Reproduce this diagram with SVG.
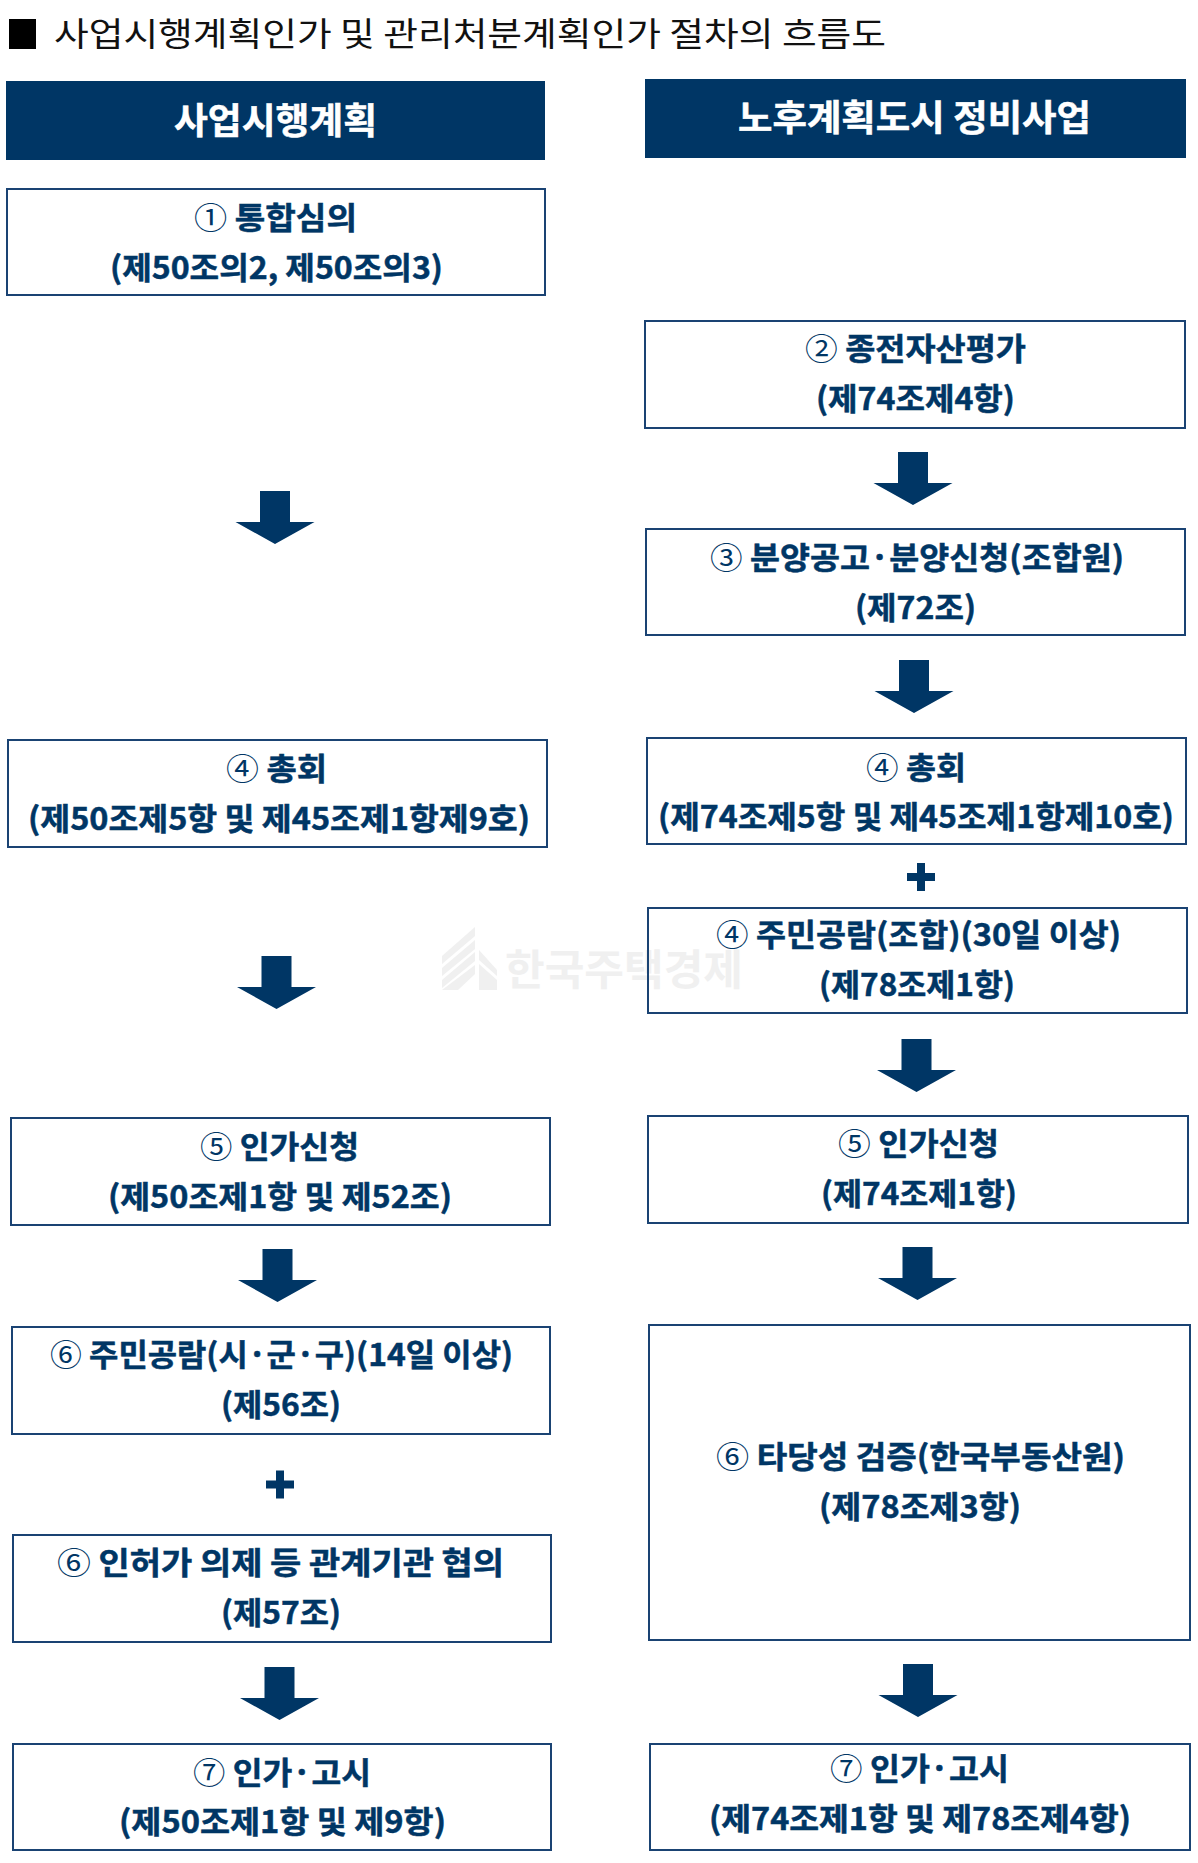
<svg xmlns="http://www.w3.org/2000/svg" xmlns:xlink="http://www.w3.org/1999/xlink" width="1198" height="1863" viewBox="0 0 1198 1863">
<style>
text{font-family:"Noto Sans CJK KR","Noto Sans",sans-serif}
.b{fill:none;stroke:#1a4373;stroke-width:2}
.h{fill:#003665}
.t{font-size:31px;font-weight:700;fill:#003665;stroke:#003665;stroke-width:.5}
.n{font-weight:400;stroke-width:0}
.w{font-size:36px;font-weight:700;fill:#fff;stroke:#fff;stroke-width:.5}
.a{fill:#003665}
.wm{fill:#f0f0f0}
</style>
<defs>
<path id="arrow" d="M-15 0H15V31H39.5L0 53L-39.5 31H-15Z"/>
<path id="plus" d="M-4 -14H4V-4H14V4H4V14H-4V4H-14V-4H-4Z"/>
</defs>
<rect width="1198" height="1863" fill="#fff"/>
<g id="watermark">
<path class="wm" d="M442 956L475 927V936L442 964ZM442 968L475 940V949L442 976ZM442 980L475 952V961L442 988ZM442 990V990L475 965V974L458 990ZM479 950L497 970V976L479 960ZM479 964L497 980V990H479Z"/>
<text class="wm" x="505" y="985" font-size="42" font-weight="700" textLength="238" lengthAdjust="spacingAndGlyphs">한국주택경제</text>
</g>
<g id="title">
<rect x="9" y="19" width="27" height="30" fill="#000"/>
<text x="54" y="46" font-size="33" fill="#111" textLength="832" lengthAdjust="spacingAndGlyphs">사업시행계획인가 및 관리처분계획인가 절차의 흐름도</text>
</g>
<g id="header-left"><rect class="h" x="6" y="81" width="539" height="79"/><text class="w" x="174" y="134" textLength="203" lengthAdjust="spacingAndGlyphs">사업시행계획</text></g>
<g id="header-right"><rect class="h" x="645" y="79" width="541" height="79"/><text class="w" x="738" y="131" textLength="353" lengthAdjust="spacingAndGlyphs">노후계획도시 정비사업</text></g>
<g id="connectors">
<use class="a" xlink:href="#arrow" href="#arrow" x="275" y="491"/>
<use class="a" xlink:href="#arrow" href="#arrow" x="276.500" y="956"/>
<use class="a" xlink:href="#arrow" href="#arrow" x="277.500" y="1249"/>
<use class="a" xlink:href="#arrow" href="#arrow" x="279.500" y="1667"/>
<use class="a" xlink:href="#arrow" href="#arrow" x="913" y="452"/>
<use class="a" xlink:href="#arrow" href="#arrow" x="914" y="660"/>
<use class="a" xlink:href="#arrow" href="#arrow" x="916.500" y="1039"/>
<use class="a" xlink:href="#arrow" href="#arrow" x="917.500" y="1247"/>
<use class="a" xlink:href="#arrow" href="#arrow" x="918" y="1664"/>
<use class="a" xlink:href="#plus" href="#plus" x="921" y="877"/>
<use class="a" xlink:href="#plus" href="#plus" x="280" y="1484.500"/>
</g>
<g id="l1"><rect class="b" x="7" y="189" width="538" height="106"/><text class="t" x="194" y="229" textLength="163" lengthAdjust="spacingAndGlyphs"><tspan class="n">①</tspan> 통합심의</text><text class="t" x="110" y="279" textLength="333" lengthAdjust="spacingAndGlyphs">(제50조의2, 제50조의3)</text></g>
<g id="l4"><rect class="b" x="8" y="740" width="539" height="107"/><text class="t" x="226" y="780" textLength="101" lengthAdjust="spacingAndGlyphs"><tspan class="n">④</tspan> 총회</text><text class="t" x="28" y="830" textLength="502" lengthAdjust="spacingAndGlyphs">(제50조제5항 및 제45조제1항제9호)</text></g>
<g id="l5"><rect class="b" x="11" y="1118" width="539" height="107"/><text class="t" x="200" y="1158" textLength="159" lengthAdjust="spacingAndGlyphs"><tspan class="n">⑤</tspan> 인가신청</text><text class="t" x="108" y="1208" textLength="344" lengthAdjust="spacingAndGlyphs">(제50조제1항 및 제52조)</text></g>
<g id="l6a"><rect class="b" x="12" y="1327" width="538" height="107"/><text class="t" x="50" y="1366" textLength="463" lengthAdjust="spacingAndGlyphs"><tspan class="n">⑥</tspan> 주민공람(시·군·구)(14일 이상)</text><text class="t" x="221" y="1416" textLength="120" lengthAdjust="spacingAndGlyphs">(제56조)</text></g>
<g id="l6b"><rect class="b" x="13" y="1535" width="538" height="107"/><text class="t" x="57" y="1574" textLength="447" lengthAdjust="spacingAndGlyphs"><tspan class="n">⑥</tspan> 인허가 의제 등 관계기관 협의</text><text class="t" x="221" y="1624" textLength="120" lengthAdjust="spacingAndGlyphs">(제57조)</text></g>
<g id="l7"><rect class="b" x="13" y="1744" width="538" height="106"/><text class="t" x="193" y="1784" textLength="178" lengthAdjust="spacingAndGlyphs"><tspan class="n">⑦</tspan> 인가·고시</text><text class="t" x="119" y="1833" textLength="327" lengthAdjust="spacingAndGlyphs">(제50조제1항 및 제9항)</text></g>
<g id="r2"><rect class="b" x="645" y="321" width="540" height="107"/><text class="t" x="805" y="360" textLength="221" lengthAdjust="spacingAndGlyphs"><tspan class="n">②</tspan> 종전자산평가</text><text class="t" x="816" y="410" textLength="199" lengthAdjust="spacingAndGlyphs">(제74조제4항)</text></g>
<g id="r3"><rect class="b" x="646" y="529" width="539" height="106"/><text class="t" x="710" y="569" textLength="414" lengthAdjust="spacingAndGlyphs"><tspan class="n">③</tspan> 분양공고·분양신청(조합원)</text><text class="t" x="855" y="619" textLength="121" lengthAdjust="spacingAndGlyphs">(제72조)</text></g>
<g id="r4a"><rect class="b" x="647" y="738" width="539" height="106"/><text class="t" x="866" y="779" textLength="100" lengthAdjust="spacingAndGlyphs"><tspan class="n">④</tspan> 총회</text><text class="t" x="658" y="828" textLength="516" lengthAdjust="spacingAndGlyphs">(제74조제5항 및 제45조제1항제10호)</text></g>
<g id="r4b"><rect class="b" x="648" y="908" width="539" height="105"/><text class="t" x="716" y="946" textLength="405" lengthAdjust="spacingAndGlyphs"><tspan class="n">④</tspan> 주민공람(조합)(30일 이상)</text><text class="t" x="819" y="996" textLength="196" lengthAdjust="spacingAndGlyphs">(제78조제1항)</text></g>
<g id="r5"><rect class="b" x="648" y="1116" width="540" height="107"/><text class="t" x="838" y="1155" textLength="161" lengthAdjust="spacingAndGlyphs"><tspan class="n">⑤</tspan> 인가신청</text><text class="t" x="821" y="1205" textLength="196" lengthAdjust="spacingAndGlyphs">(제74조제1항)</text></g>
<g id="r6"><rect class="b" x="649" y="1325" width="541" height="315"/><text class="t" x="716" y="1468" textLength="409" lengthAdjust="spacingAndGlyphs"><tspan class="n">⑥</tspan> 타당성 검증(한국부동산원)</text><text class="t" x="819" y="1518" textLength="202" lengthAdjust="spacingAndGlyphs">(제78조제3항)</text></g>
<g id="r7"><rect class="b" x="650" y="1744" width="540" height="106"/><text class="t" x="830" y="1780" textLength="179" lengthAdjust="spacingAndGlyphs"><tspan class="n">⑦</tspan> 인가·고시</text><text class="t" x="709" y="1830" textLength="422" lengthAdjust="spacingAndGlyphs">(제74조제1항 및 제78조제4항)</text></g>
</svg>
